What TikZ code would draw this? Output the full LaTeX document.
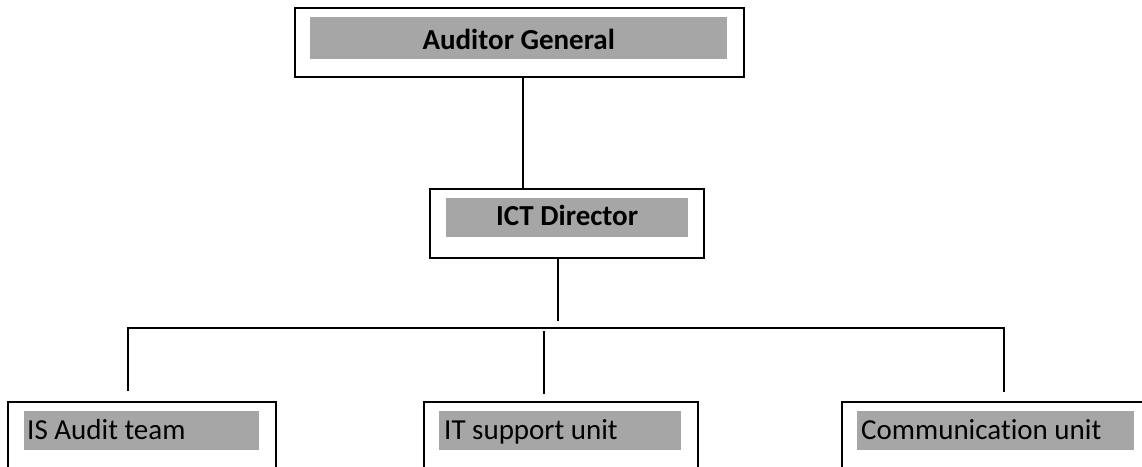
\documentclass[tikz,border=0pt]{standalone}
\usepackage{fontspec}
\setmainfont{Carlito}[Ligatures=NoCommon]
\definecolor{bandgray}{HTML}{A6A6A6}
\tikzset{
  frame/.style={draw=black, line width=2pt, fill=white, inner sep=0pt, anchor=north west},
  band/.style={fill=bandgray, inner sep=0pt, anchor=north west, text=black,
               font=\fontsize{29}{34}\selectfont},
  label/.style={inner sep=0pt, anchor=base west, text=black,
               font=\fontsize{29}{34}\selectfont},
  wire/.style={draw=black, line width=2pt}
}
\begin{document}
\begin{tikzpicture}[x=1pt, y=-1pt]
  \useasboundingbox (0,0) rectangle (1142,466);
  \clip (0,0) rectangle (1142,466);

  % top level
  \node[frame, minimum width=449pt, minimum height=69pt] (ag) at (294,7) {};
  \node[band, minimum width=417pt, minimum height=42pt, text height=32pt, text depth=10pt]
       (agT) at (310,17) {\bfseries Auditor General};

  % director
  \node[frame, minimum width=274pt, minimum height=69pt] (ict) at (429,188) {};
  \node[band, minimum width=242pt, minimum height=39pt, text height=27pt, text depth=12pt]
       (ictT) at (446,198) {\bfseries ICT Director};

  % units (cut off by the lower edge)
  \node[frame, minimum width=268pt, minimum height=90pt] (isa) at (7,401) {};
  \node[band, minimum width=235pt, minimum height=39pt] (isaB) at (24,411) {};
  \node[label] (isaT) at (27,439) {IS Audit team};

  \node[frame, minimum width=274pt, minimum height=90pt] (its) at (423,401) {};
  \node[band, minimum width=242pt, minimum height=39pt] (itsB) at (439,411) {};
  \node[label] (itsT) at (444,439) {IT support unit};

  \node[frame, minimum width=330pt, minimum height=90pt] (com) at (841,401) {};
  \node[band, minimum width=277pt, minimum height=39pt] (comB) at (857,411) {};
  \node[label] (comT) at (861,439) {Communication unit};

  % connectors
  \coordinate (busL) at (128,328);
  \coordinate (busR) at (1004,328);
  \coordinate (tapM) at (544,331);

  \draw[wire] ([xshift=3.5pt]ag.south) -- ([xshift=3.5pt]ag.south |- ict.north);
  \draw[wire] ([xshift=-9pt]ict.south) -- ([xshift=-9pt,yshift=7pt]ict.south |- busL);
  \draw[wire] ([yshift=10pt]isa.north -| busL) -- (busL) -- (busR) -- ([yshift=9pt]com.north -| busR);
  \draw[wire] (tapM) -- ([yshift=7pt]its.north -| tapM);
\end{tikzpicture}
\end{document}
